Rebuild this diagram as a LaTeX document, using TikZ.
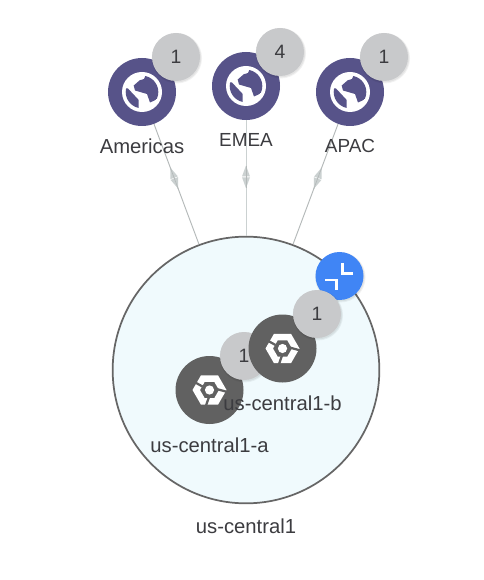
\documentclass[tikz,border=0pt]{standalone}
\usepackage{fontspec}
\setmainfont{Liberation Sans}
\usetikzlibrary{shadows,decorations.markings}
\definecolor{globec}{HTML}{575389}
\definecolor{zonec}{HTML}{616161}
\definecolor{badgec}{HTML}{C8C9CB}
\definecolor{bluec}{HTML}{4085F5}
\definecolor{regionf}{HTML}{F0FAFD}
\definecolor{regionl}{HTML}{666666}
\definecolor{linkc}{HTML}{B4B9B9}
\definecolor{headc}{HTML}{CBD1D1}
\definecolor{txt}{HTML}{3C3C40}
\tikzset{
  softshadow/.style={
    general shadow={fill=black,opacity=.05,shadow xshift=.6pt,shadow yshift=-.9pt,shadow scale=1.05},
    general shadow={fill=black,opacity=.06,shadow xshift=.5pt,shadow yshift=-.7pt,shadow scale=1.02}},
  region/.style={circle,draw=regionl,fill=regionf,line width=1.3pt,minimum size=200pt,inner sep=0pt},
  globe/.style={circle,fill=globec,minimum size=51pt,inner sep=0pt},
  zone/.style={circle,fill=zonec,minimum size=51pt,inner sep=0pt},
  badge/.style={circle,fill=badgec,minimum size=36pt,inner sep=0pt,softshadow,text=txt,font=\fontsize{14.5}{17}\selectfont},
  control/.style={circle,fill=bluec,minimum size=36pt,inner sep=0pt,softshadow},
  lbl/.style={text=txt,font=\fontsize{15.2}{18}\selectfont,inner sep=0pt},
  lblcaps/.style={text=txt,font=\fontsize{14.2}{18}\selectfont,inner sep=0pt},
  linkline/.style 2 args={draw=#2,line width=.7pt,postaction={decorate},
    decoration={markings,mark=at position #1 with {
      \fill[headc] (.3pt,-3pt) -- (8.5pt,0pt) -- (.3pt,3pt) -- cycle;
      \fill[headc] (-.3pt,-3pt) -- (-8.5pt,0pt) -- (-.3pt,3pt) -- cycle;
      \draw[linkc,line width=.5pt] (-8.5pt,0) -- (8.5pt,0);}}},
  iconline/.style={draw=white,line width=2.1pt,line cap=butt,line join=miter},
}
\newcommand{\globeicon}[1]{%
  \begin{scope}[shift={(#1)}]
    \fill[white] (0,0) circle (20);
    \begin{scope}
      \clip (0,0) circle (16.3);
      \fill[globec] (-2.3,-11.7) -- (2,-13) -- (5,-20) -- (20,-10) -- (20,3.3) -- (12.5,8.5) -- (8,10.5) -- (5,2) -- (-7,-1.5) -- (-8.3,-6.5) -- cycle;
      \fill[globec] (-20,-3.5) -- (-14,-3.5) -- (-3.3,8) -- (-3.3,20) -- (-20,20) -- cycle;
    \end{scope}
  \end{scope}}
\newcommand{\hexicon}[1]{%
  \begin{scope}[shift={(#1)}]
    \fill[white,even odd rule] (-17,0) -- (-8.5,-14.7) -- (8.5,-14.7) -- (17,0) -- (8.5,14.7) -- (-8.5,14.7) -- cycle
      (-9.5,0) -- (-4.75,-8.2) -- (4.75,-8.2) -- (9.5,0) -- (4.75,8.2) -- (-4.75,8.2) -- cycle;
    \draw[zonec,line width=1.7pt] (-7,-3.5) -- (-16,-8.5);
    \draw[zonec,line width=1.7pt] (7,-1) -- (18,2);
    \draw[zonec,line width=1.7pt] (-.5,7) -- (-4,17);
    \fill[white] (0,0) circle (4.6);
  \end{scope}}
\begin{document}
\begin{tikzpicture}[x=.75pt,y=-.75pt]
\useasboundingbox (0,0) rectangle (483,580);
\fill[white] (0,0) rectangle (483,580);
\node[region] (rg) at (246,370) {};
\node[globe] (g1) at (142,92) {};
\node[globe] (g2) at (246,86) {};
\node[globe] (g3) at (350,92) {};
\draw[linkline={.45}{linkc}] (g1) -- (rg);
\draw[linkline={.49}{headc}] (g2) -- (rg);
\draw[linkline={.55}{linkc}] (rg) -- (g3);
\node[badge] (b1) at (176,57) {1};
\node[badge] (b2) at (280,52) {4};
\node[badge] (b3) at (384,57) {1};
\globeicon{142,92}
\globeicon{246,86}
\globeicon{350,92}
\node[lbl] (l1) at (142,146) {Americas};
\node[lblcaps] (l2) at (246,140) {EMEA};
\node[lblcaps] (l3) at (350,146) {APAC};
\node[control] (ctl) at (339.5,276) {};
\draw[iconline] (342.7,263) -- (342.7,273.3) -- (353.3,273.3);
\draw[iconline] (325,280) -- (336.7,280) -- (336.7,290);
\node[zone] (za) at (209.5,390) {};
\hexicon{209.5,390}
\node[badge] (ba) at (244,356) {1};
\node[zone] (zb) at (282.5,348.5) {};
\hexicon{282.5,348.5}
\node[badge] (bb) at (317,314) {1};
\node[lbl] (la) at (209.5,445) {us-central1-a};
\node[lbl] (lb) at (282.5,403) {us-central1-b};
\node[lbl] (lr) at (246,526) {us-central1};
\end{tikzpicture}
\end{document}
